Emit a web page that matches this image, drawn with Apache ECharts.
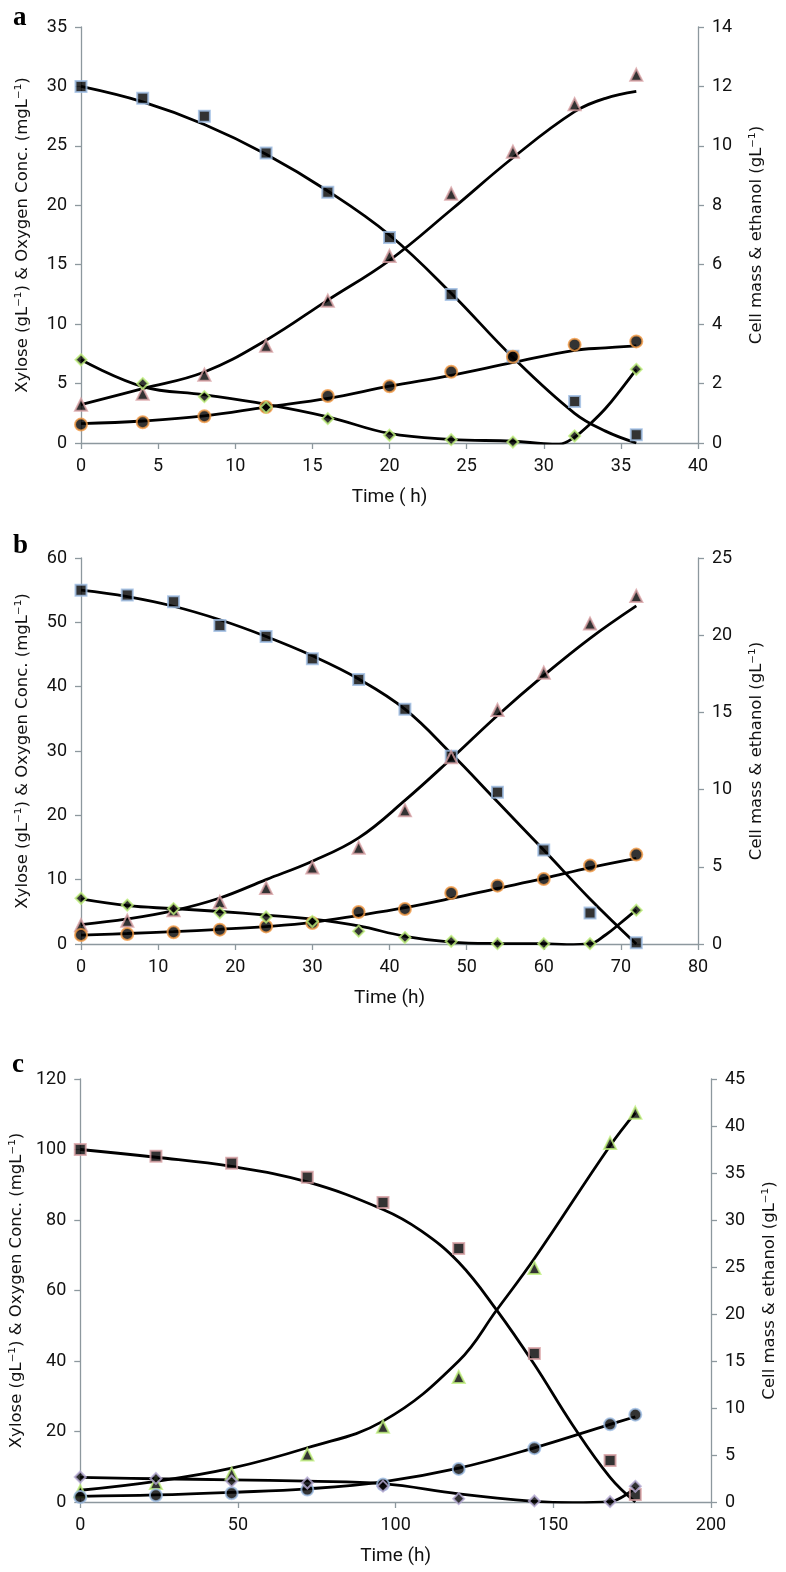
<!DOCTYPE html>
<html>
<head>
<meta charset="utf-8">
<script src="https://cdn.jsdelivr.net/npm/echarts@6/dist/echarts.min.js"></script>
<style>
  html, body { margin: 0; padding: 0; background: #fff; }
  #fig { width: 786px; height: 1572px; }
</style>
</head>
<body>
<div id="fig"></div>
<script>
  // ---- panel a (0-36 h) ----
  const aTime = [0, 4, 8, 12, 16, 20, 24, 28, 32, 36];
  const aXylose = [30, 29, 27.5, 24.4, 21.1, 17.3, 12.5, 7.3, 3.5, 0.7];
  const aOxygen = [7.0, 5.0, 3.9, 3.0, 2.05, 0.65, 0.28, 0.08, 0.59, 6.2];
  const aEthanol = [1.29, 1.66, 2.3, 3.27, 4.79, 6.29, 8.39, 9.8, 11.4, 12.39];
  const aCell = [0.62, 0.70, 0.9, 1.21, 1.58, 1.91, 2.4, 2.9, 3.31, 3.42];

  const aFitTime = [0, 4, 8, 12, 16, 20, 24, 28, 32, 34, 36];
  const aXyloseFit = [30, 28.7, 26.8, 24.3, 21.2, 17.5, 12.6, 7.2, 2.5, 1.0, 0];
  const aEthanolFit = [1.29, 1.83, 2.39, 3.46, 4.81, 6.15, 7.85, 9.6, 11.15, 11.6, 11.83];
  const aCellFit = [0.65, 0.74, 0.91, 1.21, 1.5, 1.91, 2.28, 2.71, 3.12, 3.2, 3.27];
  const aOxygenFitTime = [0, 4, 8, 12, 16, 20, 24, 28, 30, 31, 32, 33, 34, 35, 36];
  const aOxygenFit = [7.0, 4.75, 4.05, 3.25, 2.2, 0.8, 0.3, 0.15, -0.05, -0.1, 0.5, 1.6, 2.9, 4.5, 6.2];

  // ---- panel b (0-72 h) ----
  const bTime = [0, 6, 12, 18, 24, 30, 36, 42, 48, 54, 60, 66, 72];
  const bXylose = [55, 54.25, 53.2, 49.5, 47.8, 44.35, 41.1, 36.5, 29.2, 23.6, 14.6, 4.8, 0.2];
  const bOxygen = [7.1, 6.05, 5.5, 4.84, 4.2, 3.5, 2.0, 1.0, 0.42, 0.05, 0.05, 0.05, 5.26];
  const bEthanol = [1.21, 1.51, 2.18, 2.72, 3.63, 4.95, 6.24, 8.66, 12.09, 15.16, 17.57, 20.75, 22.54];
  const bCell = [0.58, 0.65, 0.76, 0.93, 1.14, 1.36, 2.07, 2.27, 3.3, 3.78, 4.21, 5.08, 5.79];

  const bXyloseFit = [55, 54.0, 52.5, 50.4, 47.8, 44.8, 41.2, 36.5, 29.6, 22.1, 14.6, 7.0, 0];
  const bEthanolFit = [1.25, 1.62, 2.16, 2.98, 4.17, 5.36, 6.87, 9.3, 12.0, 14.8, 17.4, 19.8, 21.9];
  const bCellFit = [0.58, 0.68, 0.8, 0.95, 1.13, 1.4, 1.85, 2.35, 2.95, 3.6, 4.25, 4.95, 5.55];
  const bOxygenFitTime = [0, 6, 12, 18, 24, 30, 36, 42, 48, 54, 60, 63, 66, 68, 70, 72];
  const bOxygenFit = [7.0, 5.95, 5.5, 5.05, 4.5, 3.85, 2.8, 1.2, 0.3, 0.08, 0.05, -0.1, 0.05, 1.4, 3.3, 5.3];

  // ---- panel c (0-176 h) ----
  const cTime = [0, 24, 48, 72, 96, 120, 144, 168, 176];
  const cXylose = [100, 98.1, 96.1, 92.1, 85, 71.9, 42.1, 11.8, 2.1];
  const cOxygen = [7.1, 6.7, 5.9, 5.4, 4.5, 0.95, 0.3, 0.1, 4.45];
  const cEthanol = [1.14, 2.03, 3.02, 5.05, 8.0, 13.3, 24.9, 38.2, 41.4];
  const cCell = [0.53, 0.71, 0.93, 1.32, 1.85, 3.52, 5.73, 8.26, 9.29];

  const cXyloseFitTime = [0, 24, 48, 72, 96, 108, 120, 132, 144, 156, 168, 176];
  const cXyloseFit = [100, 97.8, 95.2, 90.8, 83, 77, 68, 54.5, 39, 22, 7, 0];
  const cEthanolFitTime = [0, 24, 48, 72, 96, 120, 132, 144, 168, 176];
  const cEthanolFit = [1.25, 2.2, 3.6, 5.77, 8.6, 15.0, 20.4, 25.9, 37.9, 41.4];
  const cCellFit = [0.6, 0.75, 1.03, 1.4, 2.15, 3.6, 5.76, 8.26, 9.07];
  const cOxygenFitTime = [0, 24, 48, 72, 96, 120, 144, 156, 168, 172, 176];
  const cOxygenFit = [7.0, 6.6, 6.3, 5.9, 5.2, 2.3, 0.2, -0.2, 0.1, 1.5, 4.0];

  const leftTitle = 'Xylose (gL\u207B\u00B9) & Oxygen Conc. (mgL\u207B\u00B9)';
  const rightTitle = 'Cell mass & ethanol (gL\u207B\u00B9)';

  const AXIS = '#8d989e';
  const NUM_FONT = "'Liberation Sans Narrow', 'Roboto', sans-serif";
  const TITLE_FONT = "'DejaVu Sans', sans-serif";

  function zip(t, v) {
    return t.map((x, i) => [x, v[i]]);
  }

  function valueAxis(extra) {
    return Object.assign({
      type: 'value',
      axisLine: { show: true, lineStyle: { color: AXIS, width: 1.3 } },
      axisTick: { show: true, length: 6, lineStyle: { color: AXIS, width: 1.3 } },
      splitLine: { show: false },
      axisLabel: { color: '#111', fontSize: 18, fontFamily: NUM_FONT, margin: 14 },
      nameTextStyle: { color: '#111', fontSize: 16.5, fontFamily: TITLE_FONT }
    }, extra);
  }

  function xAxisFor(grid, max, interval, name) {
    return valueAxis({
      gridIndex: grid, min: 0, max: max, interval: interval,
      name: name, nameLocation: 'middle', nameGap: 45,
      nameTextStyle: { color: '#111', fontSize: 19, fontFamily: NUM_FONT }
    });
  }

  function leftAxis(grid, max, interval) {
    return valueAxis({
      gridIndex: grid, position: 'left', min: 0, max: max, interval: interval,
      name: leftTitle, nameLocation: 'middle', nameRotate: 90, nameGap: 50
    });
  }

  function rightAxis(grid, max, interval) {
    return valueAxis({
      gridIndex: grid, position: 'right', min: 0, max: max, interval: interval,
      name: rightTitle, nameLocation: 'middle', nameRotate: 90, nameGap: 50
    });
  }

  function fit(axis, t, v) {
    return {
      type: 'line', xAxisIndex: axis.x, yAxisIndex: axis.y,
      data: zip(t, v), smooth: 0.4, showSymbol: false, z: 2,
      lineStyle: { color: '#000', width: 2.8 }
    };
  }

  function pts(axis, t, v, symbol, size, border) {
    return {
      type: 'scatter', xAxisIndex: axis.x, yAxisIndex: axis.y,
      data: zip(t, v), symbol: symbol, symbolSize: size, z: 5,
      itemStyle: { color: '#000', borderColor: border, borderWidth: 2 }
    };
  }

  const BLUE = '#9dbde3', PINK = '#d8a0a4', ORANGE = '#f39a45', GREEN = '#bff07c', LAVENDER = '#b8acd6';

  const series = [
    // a
    fit({ x: 0, y: 0 }, aFitTime, aXyloseFit),
    fit({ x: 0, y: 1 }, aFitTime, aEthanolFit),
    fit({ x: 0, y: 1 }, aFitTime, aCellFit),
    fit({ x: 0, y: 0 }, aOxygenFitTime, aOxygenFit),
    pts({ x: 0, y: 0 }, aTime, aXylose, 'rect', 11, BLUE),
    pts({ x: 0, y: 1 }, aTime, aEthanol, 'triangle', 12, PINK),
    pts({ x: 0, y: 1 }, aTime, aCell, 'circle', 12, ORANGE),
    pts({ x: 0, y: 0 }, aTime, aOxygen, 'diamond', 11, GREEN),
    // b
    fit({ x: 1, y: 2 }, bTime, bXyloseFit),
    fit({ x: 1, y: 3 }, bTime, bEthanolFit),
    fit({ x: 1, y: 3 }, bTime, bCellFit),
    fit({ x: 1, y: 2 }, bOxygenFitTime, bOxygenFit),
    pts({ x: 1, y: 2 }, bTime, bXylose, 'rect', 11, BLUE),
    pts({ x: 1, y: 3 }, bTime, bEthanol, 'triangle', 12, PINK),
    pts({ x: 1, y: 3 }, bTime, bCell, 'circle', 12, ORANGE),
    pts({ x: 1, y: 2 }, bTime, bOxygen, 'diamond', 11, GREEN),
    // c
    fit({ x: 2, y: 4 }, cXyloseFitTime, cXyloseFit),
    fit({ x: 2, y: 5 }, cEthanolFitTime, cEthanolFit),
    fit({ x: 2, y: 5 }, cTime, cCellFit),
    fit({ x: 2, y: 4 }, cOxygenFitTime, cOxygenFit),
    pts({ x: 2, y: 4 }, cTime, cXylose, 'rect', 11, PINK),
    pts({ x: 2, y: 5 }, cTime, cEthanol, 'triangle', 12, GREEN),
    pts({ x: 2, y: 5 }, cTime, cCell, 'circle', 12, BLUE),
    pts({ x: 2, y: 4 }, cTime, cOxygen, 'diamond', 11, LAVENDER)
  ];

  function panelLetter(txt, x, y) {
    return {
      type: 'text', left: x, top: y,
      style: { text: txt, fill: '#000', font: 'bold 27px "Liberation Serif", serif' }
    };
  }

  const option = {
    animation: false,
    backgroundColor: '#fff',
    grid: [
      { left: 81, right: 88, top: 27, height: 416 },
      { left: 81, right: 88, top: 558, height: 386 },
      { left: 80, right: 75, top: 1079, height: 423 }
    ],
    xAxis: [
      xAxisFor(0, 40, 5, 'Time ( h)'),
      xAxisFor(1, 80, 10, 'Time (h)'),
      xAxisFor(2, 200, 50, 'Time (h)')
    ],
    yAxis: [
      leftAxis(0, 35, 5), rightAxis(0, 14, 2),
      leftAxis(1, 60, 10), rightAxis(1, 25, 5),
      leftAxis(2, 120, 20), rightAxis(2, 45, 5)
    ],
    series: series,
    graphic: [
      panelLetter('a', 13, 5),
      panelLetter('b', 13, 533),
      panelLetter('c', 12, 1052)
    ]
  };

  const chart = echarts.init(document.getElementById('fig'));
  chart.setOption(option);
  window.addEventListener('resize', function () {
    chart.resize();
  });
</script>
</body>
</html>
